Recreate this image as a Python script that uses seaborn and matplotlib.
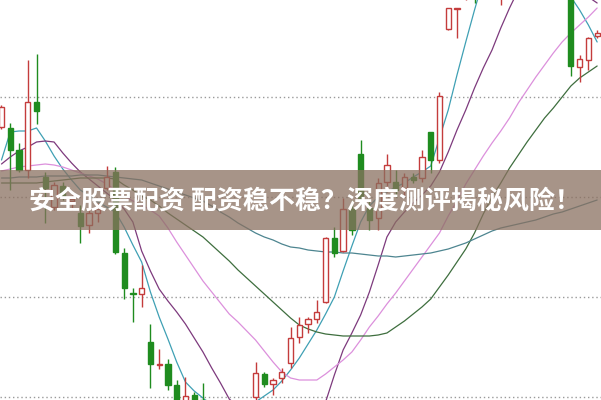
import numpy as np
import pandas as pd
import matplotlib
matplotlib.use("Agg")
import matplotlib.pyplot as plt
import seaborn as sns

# ---- data (price units) ----
opens = [37.3, 37.2, 35.0, 33.0, 39.8, 32.3, 29.3, 31.4, 29.9, 28.7,
         27.5, 28.7, 31.2, 32.8, 24.7, 20.7, 20.6, 15.8, 13.5, 13.6,
         11.5, 9.0, 10.5, 10.0, 7.0, 5.5, 6.5, 5.0, 6.0, 10.3,
         12.6, 11.6, 12.2, 13.7, 16.3, 17.6, 18.1, 19.8, 26.2, 24.9,
         29.1, 34.6, 29.2, 28.2, 31.8, 31.8, 31.2, 32.3, 32.2, 36.8,
         34.0, 47.1, 49.1, 50.5, 53.5, 51.5, 55.0, 51.0, 54.0, 57.0,
         55.0, 58.0, 56.0, 59.0, 57.0, 58.0, 43.3, 44.0, 46.4]
highs = [39.5, 37.7, 35.7, 44.0, 44.6, 32.8, 31.8, 31.8, 30.5, 29.5,
         29.2, 29.7, 33.4, 33.3, 25.2, 21.2, 23.5, 17.6, 15.1, 14.1,
         12.0, 12.3, 10.8, 11.7, 7.5, 7.0, 7.2, 6.8, 7.8, 13.8,
         12.8, 12.2, 13.2, 17.3, 18.3, 18.3, 20.0, 26.3, 27.3, 30.2,
         30.0, 36.0, 30.0, 32.2, 34.6, 33.0, 32.7, 32.7, 35.0, 36.8,
         40.8, 49.2, 49.2, 53.0, 54.0, 56.0, 59.0, 56.0, 58.0, 58.0,
         59.0, 59.0, 60.0, 60.0, 61.0, 59.0, 44.5, 46.3, 47.0]
lows = [37.1, 31.0, 32.8, 32.2, 37.6, 27.7, 29.0, 30.0, 29.0, 25.7,
        26.7, 27.8, 31.0, 24.6, 20.1, 17.8, 19.3, 11.2, 13.1, 11.0,
        8.5, 8.8, 8.8, 6.5, 5.0, 5.0, 4.5, 4.6, 5.6, 10.0,
        11.3, 10.5, 11.7, 13.2, 15.7, 16.7, 17.7, 19.7, 24.3, 24.8,
        26.5, 29.5, 27.0, 27.0, 30.8, 30.3, 30.3, 31.7, 31.8, 32.7,
        33.7, 47.0, 46.2, 50.0, 49.7, 51.0, 54.0, 49.5, 53.5, 54.0,
        54.5, 55.0, 55.5, 56.0, 56.5, 42.4, 41.8, 43.0, 46.2]
closes = [39.3, 35.0, 33.0, 39.8, 38.9, 31.2, 31.5, 30.3, 30.1, 27.4,
          28.7, 29.1, 32.3, 24.8, 21.2, 20.6, 21.2, 13.6, 13.6, 11.5,
          9.0, 10.4, 9.5, 7.0, 5.5, 6.5, 5.0, 6.0, 7.0, 12.7,
          11.6, 12.0, 12.8, 16.2, 17.5, 18.1, 18.8, 26.2, 24.7, 29.1,
          27.0, 30.2, 28.0, 31.7, 33.5, 31.0, 32.3, 32.0, 34.3, 34.0,
          40.4, 49.2, 49.2, 52.0, 51.0, 55.0, 58.0, 54.0, 57.0, 55.0,
          58.0, 56.0, 59.0, 57.0, 60.0, 43.4, 44.1, 46.2, 46.7]

ma5 = [34.0, 36.8, 36.9, 36.9, 37.2, 35.9, 34.4, 33.1, 32.0, 31.0,
       30.4, 29.8, 29.3, 28.8, 27.3, 25.5, 23.8, 20.8, 18.3, 16.1,
       13.8, 11.8, 10.9, 10.2, 9.4, 8.8, 8.4, 8.1, 8.8, 9.8,
       10.4, 11.0, 11.9, 13.0, 14.2, 15.6, 17.0, 18.6, 20.3, 22.9,
       25.4, 27.8, 29.4, 30.3, 30.8, 31.3, 31.7, 32.3, 32.8, 33.4,
       36.2, 39.0, 42.5, 45.8, 49.0, 52.0, 54.0, 55.0, 56.0, 57.0,
       57.0, 56.0, 55.0, 54.0, 52.5, 50.3, 49.0, 47.5, 45.8]
ma10 = [33.6, 34.3, 34.9, 35.3, 35.8, 35.9, 35.8, 34.7, 33.7, 32.8,
        32.1, 31.4, 30.7, 30.0, 29.1, 27.8, 24.9, 22.9, 21.1, 19.9,
        18.8, 17.6, 16.2, 14.8, 13.2, 11.7, 10.1, 9.3, 8.5, 7.8,
        7.5, 7.4, 7.4, 7.4, 7.5, 8.2, 9.0, 9.8, 12.5, 15.0,
        16.7, 18.5, 20.8, 23.5, 26.3, 27.8, 28.8, 29.7, 30.5, 31.4,
        32.8, 34.8, 37.0, 39.0, 41.2, 43.2, 45.0, 47.2, 49.2, 51.0,
        52.5, 53.5, 54.0, 54.2, 53.0, 52.0, 51.2, 50.3, 49.7]
ma20 = [32.9, 33.1, 33.3, 33.4, 33.5, 33.6, 33.5, 33.3, 33.0, 32.7,
        32.4, 32.1, 31.6, 31.0, 30.4, 29.9, 29.5, 29.0, 28.4, 27.2,
        25.8, 24.5, 23.2, 21.9, 20.8, 19.7, 18.6, 17.8, 16.9, 16.0,
        14.9, 13.8, 12.8, 12.2, 12.0, 12.0, 12.0, 12.6, 13.3, 14.0,
        14.8, 16.0, 17.3, 18.4, 19.6, 20.7, 21.9, 23.1, 24.3, 25.5,
        26.7, 28.4, 29.9, 31.6, 33.0, 34.4, 35.7, 36.9, 38.2, 39.7,
        41.0, 42.3, 43.5, 44.7, 45.8, 46.7, 47.5, 48.3, 49.2]
ma30 = [31.7, 31.7, 31.7, 31.7, 31.7, 31.8, 31.9, 32.0, 32.1, 32.2,
        32.2, 32.2, 32.2, 32.1, 31.5, 31.0, 30.4, 30.0, 29.4, 28.7,
        28.1, 27.5, 26.9, 26.3, 25.5, 24.7, 23.9, 23.0, 22.2, 21.4,
        20.6, 19.8, 19.0, 18.2, 17.5, 17.1, 16.8, 16.6, 16.5, 16.4,
        16.4, 16.4, 16.4, 16.5, 16.7, 17.3, 17.9, 18.6, 19.3, 20.1,
        21.3, 22.5, 23.8, 25.1, 26.7, 28.6, 30.3, 31.7, 33.2, 34.5,
        35.8, 37.0, 38.2, 39.2, 40.3, 41.4, 42.2, 42.8, 43.4]
ma60 = [32.2, 32.2, 32.3, 32.3, 32.3, 32.4, 32.4, 32.4, 32.4, 32.5,
        32.5, 32.5, 32.4, 32.3, 32.2, 32.1, 32.0, 31.7, 31.4, 31.1,
        30.8, 30.5, 30.2, 29.9, 29.4, 28.8, 28.3, 27.7, 27.2, 26.7,
        26.3, 26.0, 25.6, 25.3, 25.2, 25.0, 24.9, 24.8, 24.8, 24.7,
        24.7, 24.6, 24.5, 24.4, 24.4, 24.3, 24.4, 24.5, 24.6, 24.7,
        24.9, 25.1, 25.4, 25.7, 26.1, 26.5, 26.9, 27.2, 27.4, 27.6,
        27.8, 28.0, 28.3, 28.6, 28.8, 29.1, 29.4, 29.7, 30.0]

grid_levels = [40.3, 30.3, 20.3, 10.3]
title = "安全股票配资 配资稳不稳？深度测评揭秘风险！"

# ---- styling ----
sns.set_theme(style="white")
plt.rcParams['font.family'] = ['Noto Sans CJK SC', 'DejaVu Sans']

UP = "#c43c3c"
DOWN = "#1f8c1f"
line_colors = {"MA5": "#3fa0b4", "MA10": "#7d3a7d", "MA20": "#dc90dc",
               "MA30": "#3e6e3e", "MA60": "#4d8590"}

n = len(closes)
idx = np.arange(n)

fig = plt.figure(figsize=(6.01, 4.0), dpi=100)
ax = fig.add_axes([0, 0, 1, 1])
ax.set_facecolor("white")

for g in grid_levels:
    ax.axhline(g, color="#9a9a9a", lw=1.0, ls=(0, (1, 2)), zorder=0)

ma_df = pd.DataFrame({"i": np.tile(idx, 5),
                      "v": ma5 + ma10 + ma20 + ma30 + ma60,
                      "s": np.repeat(["MA5", "MA10", "MA20", "MA30", "MA60"], n)})
sns.lineplot(data=ma_df, x="i", y="v", hue="s", palette=line_colors,
             linewidth=0.9, legend=False, ax=ax, zorder=2)

o = np.array(opens); c = np.array(closes); h = np.array(highs); l = np.array(lows)
up = c >= o
cols = np.where(up, UP, DOWN)
ax.vlines(idx, l, h, colors=cols, lw=1.0, zorder=3)
bottoms = np.minimum(o, c)
heights = np.maximum(np.abs(c - o), 0.12)
ax.bar(idx[up], heights[up], bottom=bottoms[up], width=0.6,
       facecolor="white", edgecolor=UP, linewidth=1.0, zorder=4)
ax.bar(idx[~up], heights[~up], bottom=bottoms[~up], width=0.6,
       facecolor=DOWN, edgecolor=DOWN, linewidth=1.0, zorder=4)

ax.set_xlim(-0.171, 68.44)
ax.set_ylim(10, 50)
ax.axis("off")

# banner
ax.axhspan(27.0, 33.0, color="#8a7060", alpha=0.75, lw=0, zorder=5)
ax.text(0.508, 0.497, title, transform=ax.transAxes, ha="center", va="center",
        color="white", fontsize=18.7, fontweight="bold", zorder=6)

fig.savefig("out.png", dpi=100)
